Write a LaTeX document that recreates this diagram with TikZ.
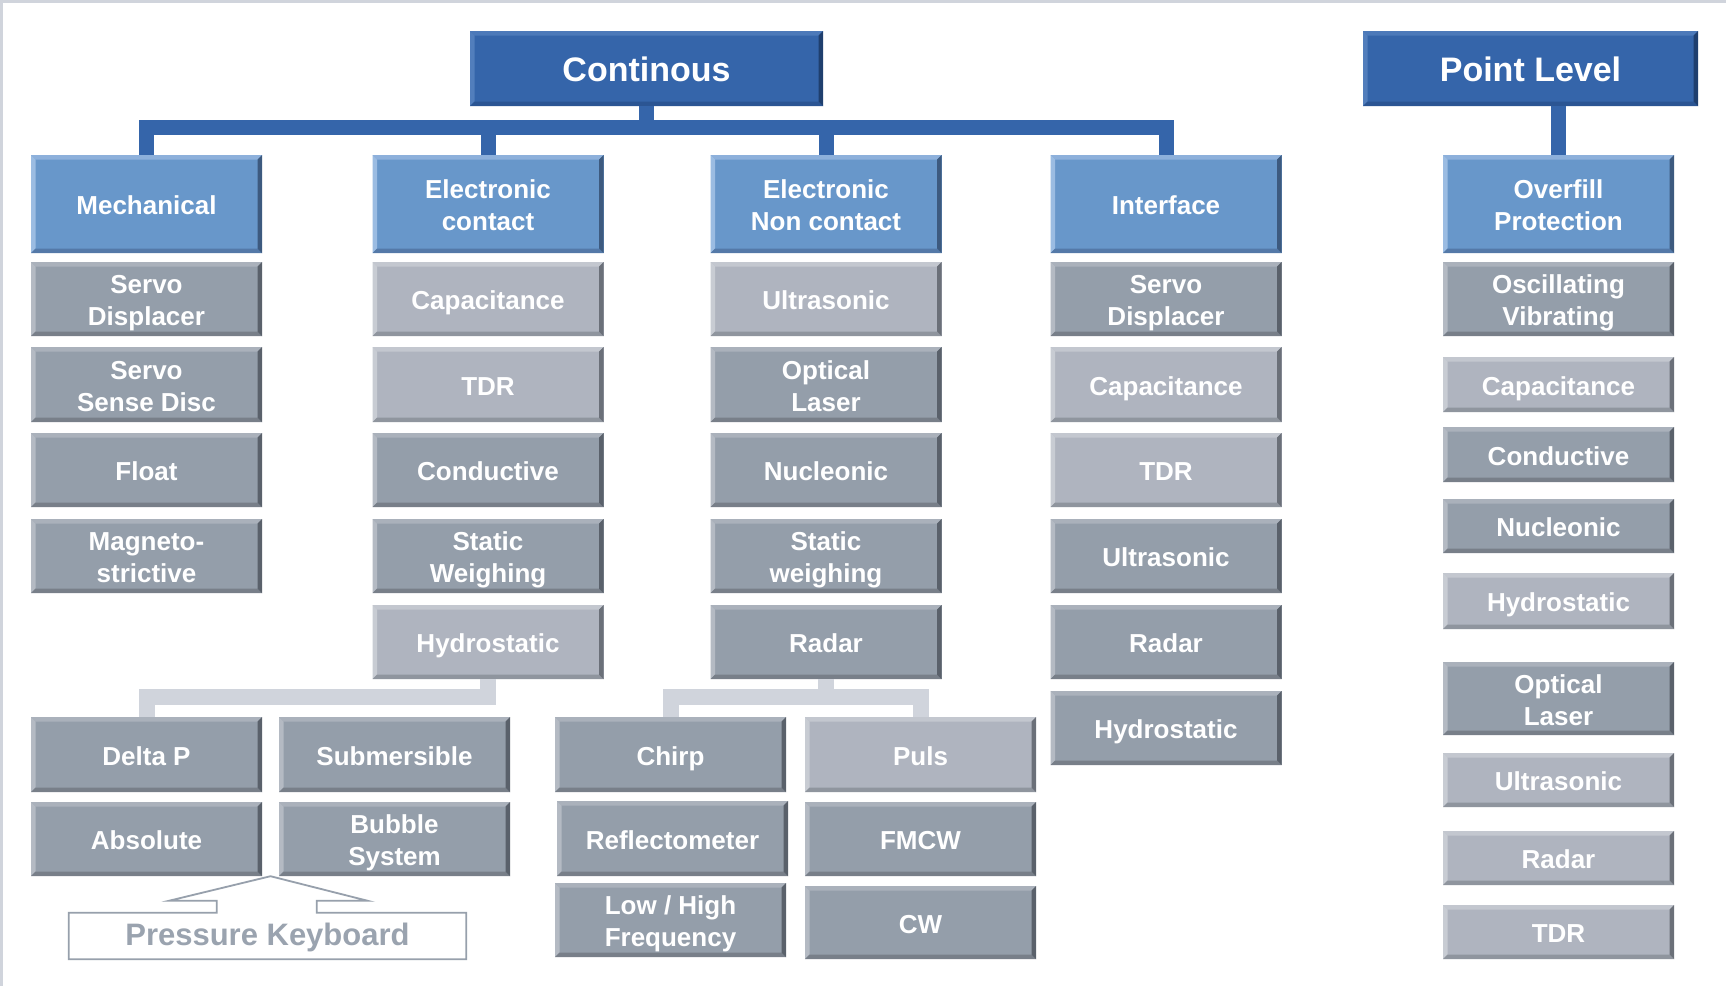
\documentclass[tikz,border=0pt]{standalone}
\usepackage{fontspec}
\setmainfont{Liberation Sans}
\usetikzlibrary{calc}
\definecolor{hB}{HTML}{3565AA}
\definecolor{hBt}{HTML}{4C79B9}
\definecolor{hBl}{HTML}{527EBC}
\definecolor{hBb}{HTML}{2B5593}
\definecolor{hBr}{HTML}{1F3F6E}
\definecolor{cB}{HTML}{6897CA}
\definecolor{cBt}{HTML}{8DB0DB}
\definecolor{cBl}{HTML}{9BBCE2}
\definecolor{cBb}{HTML}{5479A8}
\definecolor{cBr}{HTML}{3D5A7F}
\definecolor{gD}{HTML}{949EAA}
\definecolor{gDt}{HTML}{AAB1BB}
\definecolor{gDl}{HTML}{B4BAC3}
\definecolor{gDb}{HTML}{787F89}
\definecolor{gDr}{HTML}{5A616B}
\definecolor{gL}{HTML}{AFB4BF}
\definecolor{gLt}{HTML}{C3C7CF}
\definecolor{gLl}{HTML}{C8CCD3}
\definecolor{gLb}{HTML}{8F959E}
\definecolor{gLr}{HTML}{6B7079}
\definecolor{connG}{HTML}{D0D4DC}
\definecolor{frameG}{HTML}{D0D4DC}
\definecolor{pkLine}{HTML}{97A0AC}
\definecolor{pkText}{HTML}{9AA3AF}
\newcommand\bevelfill[4]{%
  \coordinate (bNW) at (path picture bounding box.north west);
  \coordinate (bNE) at (path picture bounding box.north east);
  \coordinate (bSW) at (path picture bounding box.south west);
  \coordinate (bSE) at (path picture bounding box.south east);
  \fill[#1] (bNW) -- (bNE) -- ([shift={(-4.5pt,-4.5pt)}]bNE) -- ([shift={(4.5pt,-4.5pt)}]bNW) -- cycle;
  \fill[#2] (bNW) -- ([shift={(4.5pt,-4.5pt)}]bNW) -- ([shift={(4.5pt,4.5pt)}]bSW) -- (bSW) -- cycle;
  \fill[#3] (bSW) -- ([shift={(4.5pt,4.5pt)}]bSW) -- ([shift={(-4.5pt,4.5pt)}]bSE) -- (bSE) -- cycle;
  \fill[#4] (bNE) -- (bSE) -- ([shift={(-4.5pt,4.5pt)}]bSE) -- ([shift={(-4.5pt,-4.5pt)}]bNE) -- cycle;
}
\newcommand\lowr[1]{\smash{\raisebox{-2pt}{#1}}}
\newcommand\onel[1]{\vphantom{H}\lowr{#1}}
\newcommand\twol[2]{\vphantom{H}\lowr{#1}\\\lowr{#2}}
\newcommand\hdrl[1]{\vphantom{H}\smash{\raisebox{-1pt}{#1}}}
\tikzset{
  base/.style={rectangle, inner sep=0pt, minimum width=231pt, align=center, text=white,
    font=\bfseries\fontsize{26pt}{32pt}\selectfont},
  hdr/.style={base, fill=hB, minimum height=75pt, font=\bfseries\fontsize{34pt}{40pt}\selectfont,
    path picture={\bevelfill{hBt}{hBl}{hBb}{hBr}}},
  cat/.style={base, fill=cB, minimum height=98pt, path picture={\bevelfill{cBt}{cBl}{cBb}{cBr}}},
  dk/.style={base, fill=gD, minimum height=74pt, path picture={\bevelfill{gDt}{gDl}{gDb}{gDr}}},
  lt/.style={base, fill=gL, minimum height=74pt, path picture={\bevelfill{gLt}{gLl}{gLb}{gLr}}},
  bus/.style={draw=hB, line width=15pt},
  gconn/.style={draw=connG, line width=16pt},
  pkst/.style={rectangle, inner sep=0pt, minimum width=397pt, minimum height=46pt, text=pkText,
    font=\bfseries\fontsize{31pt}{36pt}\selectfont},
  callout/.style={draw=pkLine, line width=1.8pt, fill=white},
}
\begin{document}
\begin{tikzpicture}[x=1pt, y=-1pt]
\useasboundingbox (0,0) rectangle (1726,986);
\fill[white] (0,0) rectangle (1726,986);
\fill[frameG] (0,0) rectangle (1726,3);
\fill[frameG] (0,0) rectangle (3,986);

% headers
\node[hdr, minimum width=353pt] (cont) at (646.5,68.5) {\hdrl{Continous}};
\node[hdr, minimum width=335pt] (pl) at (1530.5,68.5) {\hdrl{Point Level}};

% categories
\node[cat] (mech) at (146.5,204) {\onel{Mechanical}};
\node[cat] (elc) at (488,204) {\twol{Electronic}{contact}};
\node[cat] (enc) at (826,204) {\twol{Electronic}{Non contact}};
\node[cat] (intf) at (1166,204) {\onel{Interface}};
\node[cat] (ovf) at (1558.5,204) {\twol{Overfill}{Protection}};

% column 1
\node[dk] (m1) at (146.5,299) {\twol{Servo}{Displacer}};
\node[dk, minimum height=75pt] (m2) at (146.5,384.5) {\twol{Servo}{Sense Disc}};
\node[dk] (m3) at (146.5,470) {\onel{Float}};
\node[dk] (m4) at (146.5,556) {\twol{Magneto-}{strictive}};

% column 2
\node[lt] (e1) at (488,299) {\onel{Capacitance}};
\node[lt, minimum height=75pt] (e2) at (488,384.5) {\onel{TDR}};
\node[dk] (e3) at (488,470) {\onel{Conductive}};
\node[dk] (e4) at (488,556) {\twol{Static}{Weighing}};
\node[lt] (e5) at (488,642) {\onel{Hydrostatic}};

% column 3
\node[lt] (n1) at (826,299) {\onel{Ultrasonic}};
\node[dk, minimum height=75pt] (n2) at (826,384.5) {\twol{Optical}{Laser}};
\node[dk] (n3) at (826,470) {\onel{Nucleonic}};
\node[dk] (n4) at (826,556) {\twol{Static}{weighing}};
\node[dk] (n5) at (826,642) {\onel{Radar}};

% column 4
\node[dk] (i1) at (1166,299) {\twol{Servo}{Displacer}};
\node[lt, minimum height=75pt] (i2) at (1166,384.5) {\onel{Capacitance}};
\node[lt] (i3) at (1166,470) {\onel{TDR}};
\node[dk] (i4) at (1166,556) {\onel{Ultrasonic}};
\node[dk] (i5) at (1166,642) {\onel{Radar}};
\node[dk] (i6) at (1166,728) {\onel{Hydrostatic}};

% column 5
\node[dk] (p1) at (1558.5,299) {\twol{Oscillating}{Vibrating}};
\node[lt, minimum height=55pt] (p2) at (1558.5,384.5) {\onel{Capacitance}};
\node[dk, minimum height=55pt] (p3) at (1558.5,454.5) {\onel{Conductive}};
\node[dk, minimum height=54pt] (p4) at (1558.5,526) {\onel{Nucleonic}};
\node[lt, minimum height=56pt] (p5) at (1558.5,601) {\onel{Hydrostatic}};
\node[dk, minimum height=73pt] (p6) at (1558.5,698.5) {\twol{Optical}{Laser}};
\node[lt, minimum height=54pt] (p7) at (1558.5,780) {\onel{Ultrasonic}};
\node[lt, minimum height=54pt] (p8) at (1558.5,858) {\onel{Radar}};
\node[lt, minimum height=54pt] (p9) at (1558.5,932) {\onel{TDR}};

% hydrostatic sub-items
\node[dk, minimum height=75pt] (dp) at (146.5,754.5) {\onel{Delta P}};
\node[dk, minimum height=75pt] (sub) at (394.5,754.5) {\onel{Submersible}};
\node[dk] (abs) at (146.5,839) {\onel{Absolute}};
\node[dk] (bub) at (394.5,839) {\twol{Bubble}{System}};

% radar sub-items
\node[dk, minimum height=75pt] (chirp) at (670.5,754.5) {\onel{Chirp}};
\node[lt, minimum height=75pt] (puls) at (920.5,754.5) {\onel{Puls}};
\node[dk, minimum height=75pt] (refl) at (672.5,838.5) {\onel{Reflectometer}};
\node[dk] (fmcw) at (920.5,839) {\onel{FMCW}};
\node[dk] (lowhi) at (670.5,920) {\twol{Low / High}{Frequency}};
\node[dk, minimum height=73pt] (cw) at (920.5,922.5) {\onel{CW}};

% blue connectors
\coordinate (busy) at (0,127);
\draw[bus] (mech.north) -- (mech.north |- busy) -- (intf.north |- busy) -- (intf.north);
\draw[bus] (elc.north) -- (elc.north |- busy);
\draw[bus] (enc.north) -- (enc.north |- busy);
\draw[bus] (cont.south) -- (cont.south |- busy);
\draw[bus] (ovf.north) -- (ovf.north |- pl.south);

% gray connectors
\coordinate (gy) at (0,697);
\draw[gconn] (e5.south) -- (e5.south |- gy) -- (dp.north |- gy) -- (dp.north);
\draw[gconn] (n5.south) -- (n5.south |- gy);
\draw[gconn] (chirp.north) -- (chirp.north |- gy) -- (puls.north |- gy) -- (puls.north);

% pressure keyboard callout
\node[pkst] (pk) at (267.5,936) {};
\coordinate (apex) at ($(abs.south east)!0.5!(bub.south west)$);
\draw[callout] (pk.north west) -- ($(pk.north west)+(148,0)$) -- ++(0,-12) -- ++(-48,0) -- (apex)
  -- ($(pk.north west)+(299,-12)$) -- ++(-51,0) -- ++(0,12) -- (pk.north east) -- (pk.south east)
  -- (pk.south west) -- cycle;
\node[pkst] (pktext) at (pk.center) {\vphantom{H}\smash{\raisebox{1pt}{Pressure Keyboard}}};
\end{tikzpicture}
\end{document}
